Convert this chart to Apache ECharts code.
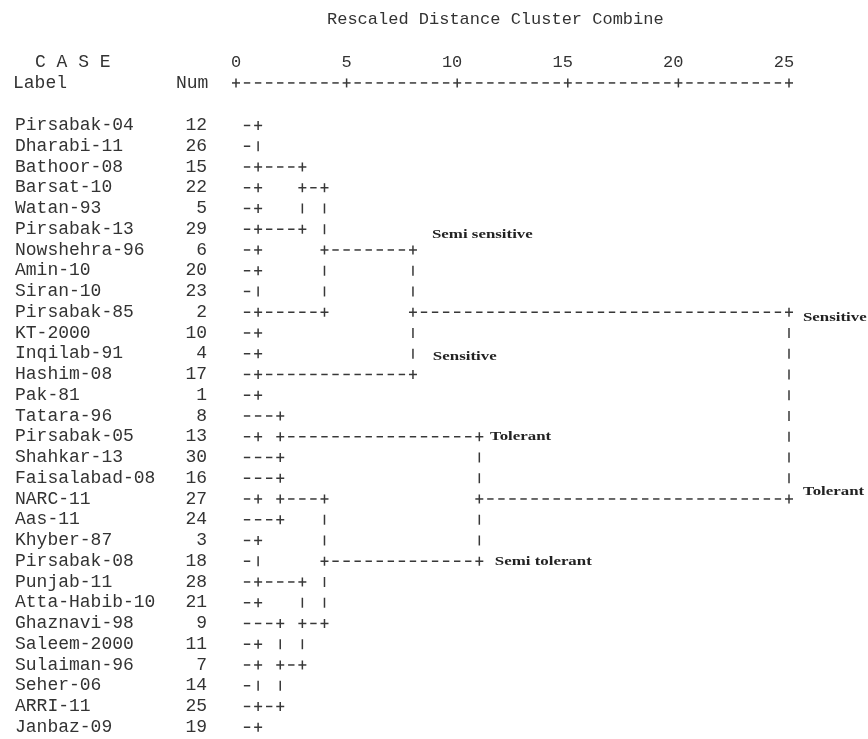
<!DOCTYPE html>
<html>
<head>
<meta charset="utf-8">
<script src="https://cdn.jsdelivr.net/npm/echarts@6/dist/echarts.min.js"></script>
<style>
  html, body { margin: 0; padding: 0; background: #ffffff; }
  #chart { width: 868px; height: 739px; }
</style>
</head>
<body>
<div id="chart"></div>
<script>
// Case labels in dendrogram order, top to bottom
const caseLabels = [
  'Pirsabak-04', 'Dharabi-11', 'Bathoor-08', 'Barsat-10', 'Watan-93',
  'Pirsabak-13', 'Nowshehra-96', 'Amin-10', 'Siran-10', 'Pirsabak-85',
  'KT-2000', 'Inqilab-91', 'Hashim-08', 'Pak-81', 'Tatara-96',
  'Pirsabak-05', 'Shahkar-13', 'Faisalabad-08', 'NARC-11', 'Aas-11',
  'Khyber-87', 'Pirsabak-08', 'Punjab-11', 'Atta-Habib-10', 'Ghaznavi-98',
  'Saleem-2000', 'Sulaiman-96', 'Seher-06', 'ARRI-11', 'Janbaz-09'
];
// Case numbers
const caseNums = [12, 26, 15, 22, 5, 29, 6, 20, 23, 2, 10, 4, 17, 1, 8,
                  13, 30, 16, 27, 24, 3, 18, 28, 21, 9, 11, 7, 14, 25, 19];
// Rescaled distance where each case first joins a cluster
const leafJoin = [1, 1, 1, 1, 1, 1, 1, 1, 1, 1, 1, 1, 1, 1, 2,
                  1, 2, 2, 1, 2, 1, 1, 1, 1, 2, 1, 1, 1, 1, 1];
// Joint glyph at the end of each case line
const leafGlyph = ['+', '|', '+', '+', '+', '+', '+', '+', '|', '+',
                   '+', '+', '+', '+', '+', '+', '+', '+', '+', '+',
                   '+', '|', '+', '+', '+', '+', '+', '|', '+', '+'];
// Cluster links: [merge distance, first row, last row, row carrying the link, distance of next merge]
const links = [
  [1, 0, 2, 2, 3],
  [1, 3, 5, 5, 3],
  [3, 2, 5, 3, 4],
  [1, 6, 9, 9, 4],
  [4, 3, 9, 6, 8],
  [1, 10, 13, 12, 8],
  [8, 6, 12, 9, 25],
  [2, 14, 17, 15, 11],
  [2, 18, 19, 18, 4],
  [1, 20, 23, 22, 3],
  [1, 25, 29, 28, 2],
  [2, 24, 28, 26, 3],
  [3, 22, 26, 24, 4],
  [4, 18, 24, 21, 11],
  [11, 15, 21, 18, 25],
  [25, 9, 18, null, null]
];
// Distance scale ticks
const distTicks = [0, 5, 10, 15, 20, 25];
// Group notes: [text, distance, row]
const groupNotes = [
  ['Semi sensitive', 8.86, 5.28],
  ['Sensitive', 25.63, 9.28],
  ['Sensitive', 8.9, 11.14],
  ['Tolerant', 11.48, 14.99],
  ['Tolerant', 25.63, 17.66],
  ['Semi tolerant', 11.7, 21.04]
];

const MONO = "'Liberation Mono', 'DejaVu Sans Mono', monospace";
const SERIF = "'Liberation Serif', 'DejaVu Serif', serif";
const INK = '#333333';
const LINE = '#383838';
const FS = 18;

// Glyph kinds drawn on the character grid (one column = half a distance unit)
const DASH = 0, PLUS = 1, BAR = 2, RULE_DASH = 3, RULE_PLUS = 4;
const cells = new Map();
const key = (d, r) => d + ':' + r;
links.forEach(([d, first, last]) => {
  for (let r = first; r <= last; r++) cells.set(key(d, r), [d, r, BAR]);
});
leafJoin.forEach((d, r) => cells.set(key(d, r), [d, r, leafGlyph[r] === '+' ? PLUS : BAR]));
links.forEach(([d, , , out, parent]) => {
  if (out == null) return;
  cells.set(key(d, out), [d, out, PLUS]);
  cells.set(key(parent, out), [parent, out, PLUS]);
});
const glyphs = Array.from(cells.values());
leafJoin.forEach((d, r) => {
  for (let c = 0.5; c < d; c += 0.5) glyphs.push([c, r, DASH]);
});
links.forEach(([d, , , out, parent]) => {
  if (out == null) return;
  for (let c = d + 0.5; c < parent; c += 0.5) glyphs.push([c, out, DASH]);
});
const distMax = distTicks[distTicks.length - 1];
for (let c = 0; c <= distMax; c += 0.5) {
  glyphs.push([c, 0, distTicks.includes(c) ? RULE_PLUS : RULE_DASH]);
}

const RULER_ROWS = 2.05; // ruler sits this many rows above the first case

function renderGlyph(params, api) {
  const d = api.value(0), r = api.value(1), kind = api.value(2);
  const band = api.size([0, 1])[1];
  const p = api.coord([d, r]);
  const x = p[0];
  const y = kind >= RULE_DASH ? api.coord([d, 0])[1] - RULER_ROWS * band : p[1];
  const style = { stroke: LINE, lineWidth: 1.5 };
  const seg = (x1, y1, x2, y2) => ({ type: 'line', shape: { x1, y1, x2, y2 }, style });
  let children;
  if (kind === DASH || kind === RULE_DASH) {
    children = [seg(x - 3.2, y, x + 3.2, y)];
  } else if (kind === PLUS || kind === RULE_PLUS) {
    children = [seg(x - 4, y, x + 4, y), seg(x, y - 4.5, x, y + 4.5)];
  } else {
    children = [seg(x, y - 5, x, y + 5)];
  }
  return { type: 'group', children };
}

function renderNote(params, api) {
  const band = api.size([0, 1])[1];
  const x = api.coord([api.value(1), 0])[0];
  const y = api.coord([0, 0])[1] + api.value(2) * band;
  return {
    type: 'text',
    x, y, scaleX: 1.35,
    style: {
      x: 0, y: 0, text: groupNotes[params.dataIndex][0],
      fontFamily: SERIF, fontSize: 12.5, fontWeight: 'bold',
      fill: '#222', align: 'left', verticalAlign: 'middle'
    }
  };
}

const chart = echarts.init(document.getElementById('chart'), null, { renderer: 'canvas' });
chart.setOption({
  backgroundColor: '#ffffff',
  animation: false,
  title: {
    text: 'Rescaled Distance Cluster Combine',
    left: 322, top: 6,
    textStyle: { fontFamily: MONO, fontSize: 17, fontWeight: 'normal', color: INK }
  },
  graphic: [
    { type: 'text', left: 35, top: 53, style: { text: 'C A S E', font: FS + 'px ' + MONO, fill: INK } },
    { type: 'text', left: 13, top: 74, style: { text: 'Label', font: FS + 'px ' + MONO, fill: INK } },
    { type: 'text', left: 176, top: 74, style: { text: 'Num', font: FS + 'px ' + MONO, fill: INK } }
  ],
  grid: { left: 236, right: 79, top: 115.1, height: 622.5 },
  xAxis: {
    type: 'value', position: 'top', offset: 32,
    min: 0, max: distMax, interval: 5,
    axisLine: { show: false }, axisTick: { show: false }, splitLine: { show: false },
    axisLabel: {
      margin: 12, fontFamily: MONO, fontSize: 17, color: INK,
      formatter: v => (v >= 10 ? v + ' ' : String(v))
    }
  },
  yAxis: [
    {
      type: 'category', inverse: true, data: caseLabels,
      axisLine: { show: false }, axisTick: { show: false }, splitLine: { show: false },
      axisLabel: { align: 'left', margin: 221, fontFamily: MONO, fontSize: FS, color: INK, interval: 0 }
    },
    {
      type: 'category', inverse: true, position: 'left', data: caseLabels,
      axisLine: { show: false }, axisTick: { show: false }, splitLine: { show: false },
      axisLabel: {
        align: 'right', margin: 29, fontFamily: MONO, fontSize: FS, color: INK, interval: 0,
        formatter: (v, i) => String(caseNums[i])
      }
    }
  ],
  series: [
    {
      type: 'custom', name: 'dendrogram', clip: false,
      xAxisIndex: 0, yAxisIndex: 0,
      encode: { x: 0, y: 1 },
      renderItem: renderGlyph,
      data: glyphs
    },
    {
      type: 'custom', name: 'groups', clip: false,
      xAxisIndex: 0, yAxisIndex: 0,
      encode: { x: 1, y: 2 },
      renderItem: renderNote,
      data: groupNotes.map(n => [0, n[1], n[2]])
    }
  ]
});
</script>
</body>
</html>
